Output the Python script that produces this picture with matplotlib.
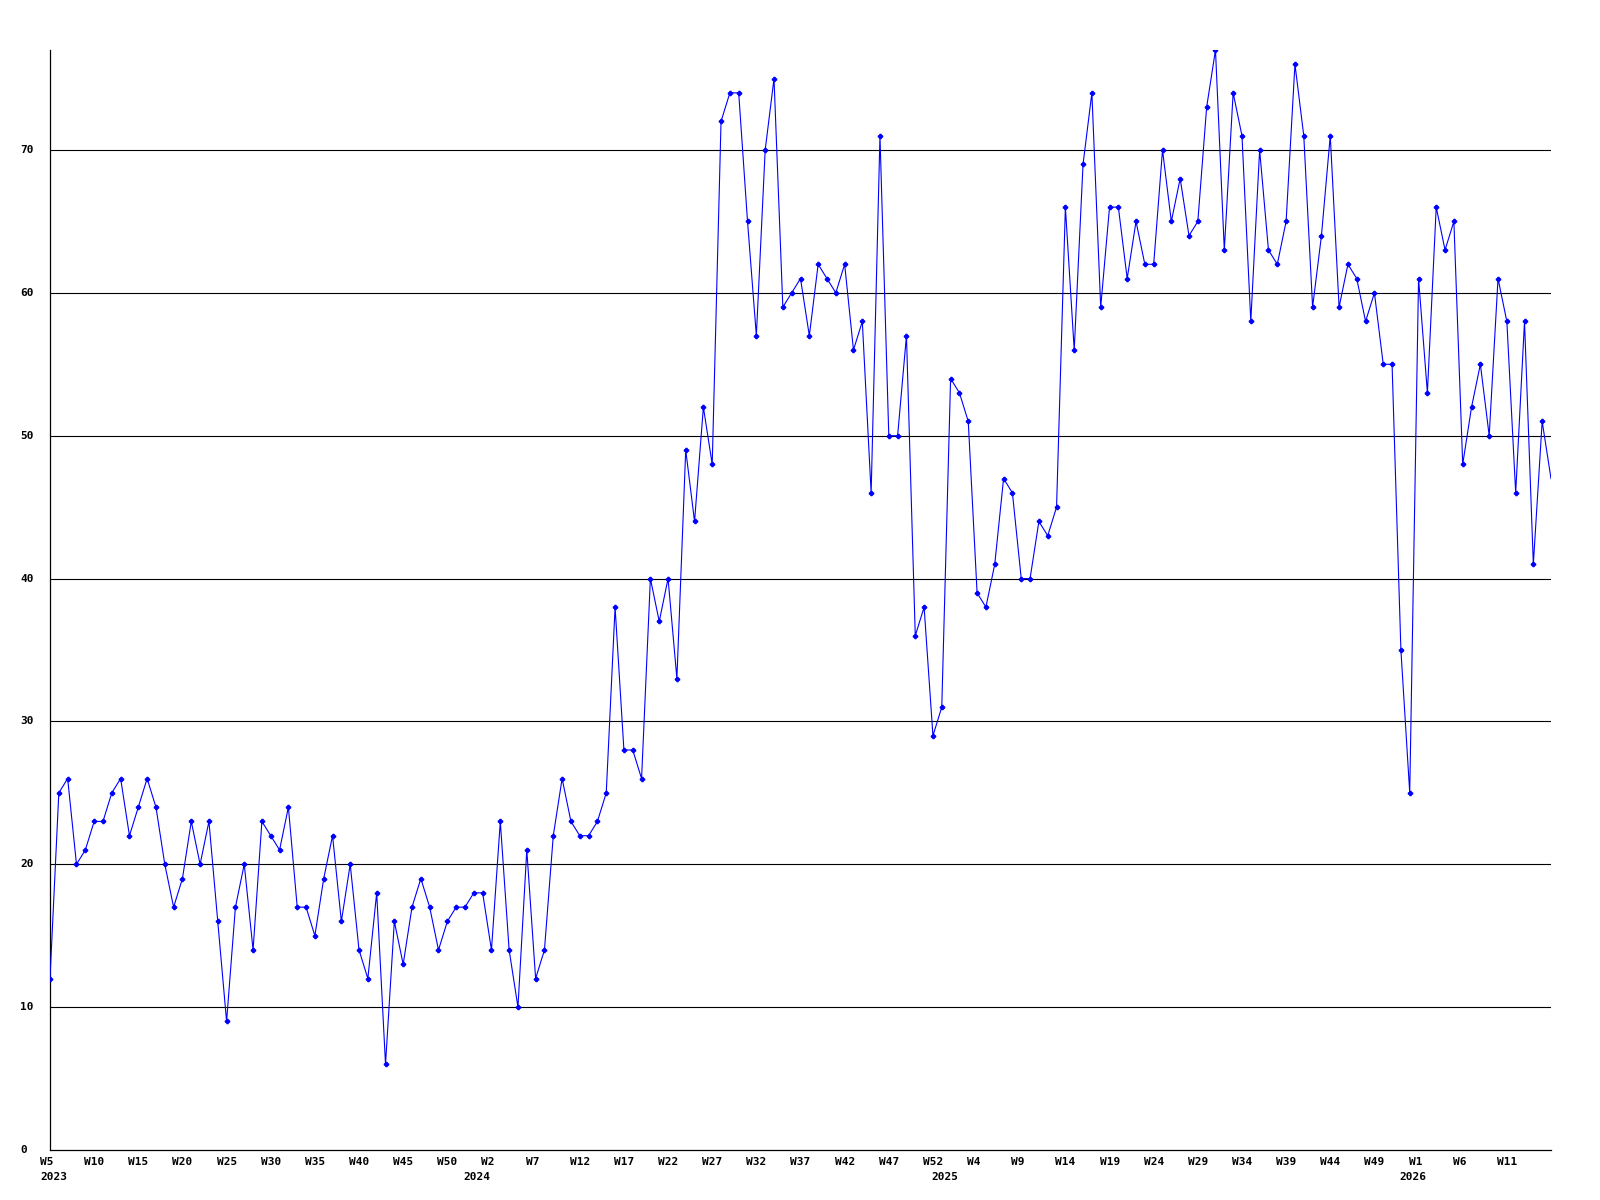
import numpy as np
import matplotlib
matplotlib.use("Agg")
import matplotlib.pyplot as plt
from matplotlib.transforms import blended_transform_factory, ScaledTranslation

# weekly values, 2023 W5 onwards
values = [12, 25, 26, 20, 21, 23, 23, 25, 26, 22,
          24, 26, 24, 20, 17, 19, 23, 20, 23, 16,
          9, 17, 20, 14, 23, 22, 21, 24, 17, 17,
          15, 19, 22, 16, 20, 14, 12, 18, 6, 16,
          13, 17, 19, 17, 14, 16, 17, 17, 18, 18,
          14, 23, 14, 10, 21, 12, 14, 22, 26, 23,
          22, 22, 23, 25, 38, 28, 28, 26, 40, 37,
          40, 33, 49, 44, 52, 48, 72, 74, 74, 65,
          57, 70, 75, 59, 60, 61, 57, 62, 61, 60,
          62, 56, 58, 46, 71, 50, 50, 57, 36, 38,
          29, 31, 54, 53, 51, 39, 38, 41, 47, 46,
          40, 40, 44, 43, 45, 66, 56, 69, 74, 59,
          66, 66, 61, 65, 62, 62, 70, 65, 68, 64,
          65, 73, 77, 63, 74, 71, 58, 70, 63, 62,
          65, 76, 71, 59, 64, 71, 59, 62, 61, 58,
          60, 55, 55, 35, 25, 61, 53, 66, 63, 65,
          48, 52, 55, 50, 61, 58, 46, 58, 41, 51,
          47]

week_labels = ["W5", "W10", "W15", "W20", "W25", "W30", "W35", "W40", "W45", "W50",
               "W2", "W7", "W12", "W17", "W22", "W27", "W32", "W37", "W42", "W47",
               "W52", "W4", "W9", "W14", "W19", "W24", "W29", "W34", "W39", "W44",
               "W49", "W1", "W6", "W11"]
year_labels = ["2023", "2024", "2025", "2026"]
year_pos = [0, 48, 101, 154]
y_ticks = [0, 10, 20, 30, 40, 50, 60, 70]

font = dict(family="DejaVu Sans Mono", weight="bold", size=8)

x = np.arange(len(values))

fig = plt.figure(figsize=(16, 12), dpi=100)
ax = fig.add_axes([50/1600, 1 - 1150/1200, 1501/1600, 1100/1200])

for v in y_ticks[1:]:
    ax.axhline(v, color="black", lw=0.8, zorder=1)

ax.plot(x, values, color="#0000ff", lw=0.8, marker="P", ms=3,
        markevery=list(range(len(values) - 1)), zorder=3)

ax.set_xlim(0, len(values) - 1)
ax.set_ylim(0, 77)
ax.set_xticks([])
ax.set_yticks([])
for s in ["top", "right"]:
    ax.spines[s].set_visible(False)
ax.spines["left"].set_linewidth(0.9)
ax.spines["bottom"].set_linewidth(0.9)

# y labels, left aligned near the figure edge
ytr = blended_transform_factory(fig.transFigure, ax.transData)
for v in y_ticks:
    ax.text(20/1600, v, str(v), transform=ytr, ha="left", va="center", **font)

# week / year labels
base = blended_transform_factory(ax.transData, ax.transAxes)
wtr = base + ScaledTranslation(-10/100, -12/100, fig.dpi_scale_trans)
ytr2 = base + ScaledTranslation(-10/100, -27/100, fig.dpi_scale_trans)
for i, lab in enumerate(week_labels):
    ax.text(i * 5, 0, lab, transform=wtr, ha="left", va="center", clip_on=False, **font)
for p, lab in zip(year_pos, year_labels):
    ax.text(p, 0, lab, transform=ytr2, ha="left", va="center", clip_on=False, **font)

fig.savefig("out.png", dpi=100)
